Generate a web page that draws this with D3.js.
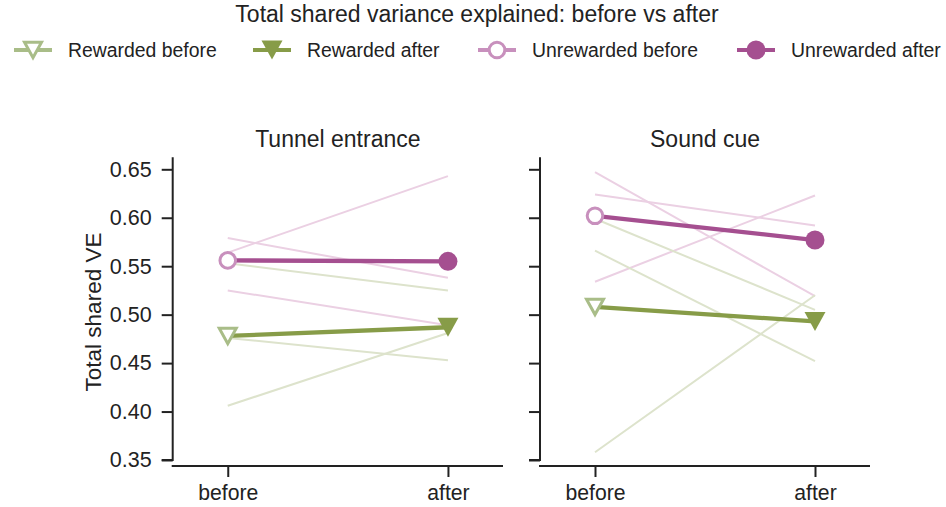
<!DOCTYPE html>
<html><head><meta charset="utf-8">
<script src="https://cdn.jsdelivr.net/npm/d3@7"></script>
<style>body{margin:0;background:#fff}svg{display:block;font-family:"Liberation Sans",Arial,sans-serif}</style>
</head><body><svg id="c" width="946" height="507"></svg>
<script>
const panels = ["Tunnel entrance", "Sound cue"];
const conditions = ["before", "after"];
const yTicks = [0.35, 0.40, 0.45, 0.50, 0.55, 0.60, 0.65];
// individual animals: [before, after]
const rewardedTunnel = [[0.553, 0.525], [0.476, 0.453], [0.406, 0.481]];
const unrewardedTunnel = [[0.564, 0.643], [0.579, 0.538], [0.525, 0.489]];
const rewardedSound = [[0.599, 0.505], [0.566, 0.452], [0.358, 0.520]];
const unrewardedSound = [[0.647, 0.519], [0.624, 0.592], [0.534, 0.623]];
// means [before, after]
const rewardedMean = [[0.478, 0.487], [0.508, 0.493]];
const unrewardedMean = [[0.556, 0.555], [0.602, 0.577]];
const legendLabels = ["Rewarded before", "Rewarded after", "Unrewarded before", "Unrewarded after"];

const C = {rb:"#a9bd88", ra:"#879c48", ub:"#c890bd", ua:"#a54f90", rf:"#dde3cc", uf:"#ebd0e3"};
const svg = d3.select("#c");
const y = d3.scaleLinear().domain([0.35, 0.65]).range([460, 169.3]);
const panelX = [[172.7, 503], [540, 870]];
const indiv = [[rewardedTunnel, unrewardedTunnel], [rewardedSound, unrewardedSound]];

svg.append("text").attr("x", 477).attr("y", 22).attr("text-anchor","middle")
  .attr("font-size", 23).attr("fill","#222").text("Total shared variance explained: before vs after");

const triDown = s => { const h = s*0.9; return `M${-s/2},${-h/2}L${s/2},${-h/2}L0,${h/2}Z`; };

function marker(g, kind, x, yy){
  if(kind==="rb") g.append("path").attr("d", triDown(17)).attr("transform",`translate(${x},${yy})`)
      .attr("fill","#fff").attr("stroke",C.rb).attr("stroke-width",3).attr("stroke-linejoin","miter");
  if(kind==="ra") g.append("path").attr("d", triDown(21)).attr("transform",`translate(${x},${yy})`)
      .attr("fill",C.ra);
  if(kind==="ub") g.append("circle").attr("cx",x).attr("cy",yy).attr("r",7.8)
      .attr("fill","#fff").attr("stroke",C.ub).attr("stroke-width",3);
  if(kind==="ua") g.append("circle").attr("cx",x).attr("cy",yy).attr("r",9.5).attr("fill",C.ua);
}

const legX = [33, 272, 497, 756];
const kinds = ["rb","ra","ub","ua"];
const legG = svg.append("g");
legendLabels.forEach((l,i)=>{
  const cx = legX[i], cy = 50;
  legG.append("line").attr("x1",cx-19).attr("x2",cx+19).attr("y1",cy).attr("y2",cy)
    .attr("stroke",C[kinds[i]]).attr("stroke-width",4);
  marker(legG, kinds[i], cx, cy);
  legG.append("text").attr("x", cx+35).attr("y", cy+7).attr("font-size",19.4).attr("fill","#222").text(l);
});

panels.forEach((p, pi)=>{
  const [x0, x1] = panelX[pi];
  const x = d3.scalePoint().domain(conditions).range([x0 + (x1-x0)/6, x1 - (x1-x0)/6]);
  const g = svg.append("g");
  g.append("text").attr("x",(x0+x1)/2).attr("y",147).attr("text-anchor","middle")
    .attr("font-size",23).attr("fill","#222").text(p);
  const [rew, unr] = indiv[pi];
  const line = d3.line().x((d,i)=>x(conditions[i])).y(d=>y(d));
  unr.forEach(d=> g.append("path").attr("d", line(d)).attr("fill","none").attr("stroke",C.uf).attr("stroke-width",2));
  rew.forEach(d=> g.append("path").attr("d", line(d)).attr("fill","none").attr("stroke",C.rf).attr("stroke-width",2));
  g.append("path").attr("d", line(unrewardedMean[pi])).attr("fill","none").attr("stroke",C.ua).attr("stroke-width",4.3);
  g.append("path").attr("d", line(rewardedMean[pi])).attr("fill","none").attr("stroke",C.ra).attr("stroke-width",4.3);
  marker(g,"ub",x("before"),y(unrewardedMean[pi][0]));
  marker(g,"ua",x("after"),y(unrewardedMean[pi][1]));
  marker(g,"rb",x("before"),y(rewardedMean[pi][0]));
  marker(g,"ra",x("after"),y(rewardedMean[pi][1]));

  const yAx = d3.axisLeft(y).tickValues(yTicks).tickSize(11).tickPadding(10)
    .tickFormat(pi===0 ? d3.format(".2f") : () => "");
  const ya = svg.append("g").attr("transform",`translate(${x0},0)`).call(yAx);
  ya.select(".domain").attr("d", `M-11,${y(0.35)}H0V157.3`).attr("stroke","#222").attr("stroke-width",2);
  ya.selectAll(".tick line").attr("stroke","#222").attr("stroke-width",2);
  ya.selectAll(".tick text").attr("font-size",21.5).attr("fill","#222").attr("font-family","Liberation Sans, Arial, sans-serif");
  const xAx = d3.axisBottom(x).tickSize(11).tickPadding(8);
  const xa = svg.append("g").attr("transform",`translate(0,466)`).call(xAx);
  xa.select(".domain").attr("d", `M${x0-1},0H${x1}`).attr("stroke","#222").attr("stroke-width",2);
  xa.selectAll(".tick line").attr("stroke","#222").attr("stroke-width",2);
  xa.selectAll(".tick text").attr("font-size",21.2).attr("fill","#222").attr("font-family","Liberation Sans, Arial, sans-serif");
});

svg.append("text").attr("transform","translate(100.5,312) rotate(-90)").attr("text-anchor","middle")
  .attr("font-size",22.5).attr("fill","#222").text("Total shared VE");
</script></body></html>
